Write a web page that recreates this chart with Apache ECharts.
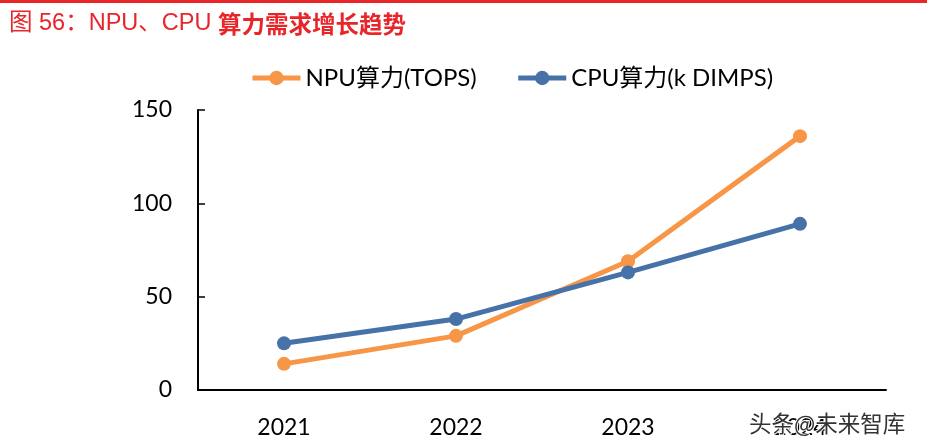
<!DOCTYPE html>
<html><head><meta charset="utf-8">
<script src="https://cdn.jsdelivr.net/npm/echarts@6/dist/echarts.min.js"></script>
<style>html,body{margin:0;padding:0;background:#fff}#c{width:927px;height:447px}</style>
</head><body><div id="c"></div>
<script>
var categories = ['2021', '2022', '2023', '2024'];
var npuValues = [14, 29, 69, 136];
var cpuValues = [25, 38, 63, 89];
var yTicks = [0, 50, 100, 150];
var seriesNames = ['NPU算力(TOPS)', 'CPU算力(k DIMPS)'];

var FONT = 'Lato, "Noto Sans CJK SC", sans-serif';
var NPU_COLOR = '#F79646', CPU_COLOR = '#4672A8';
var chart = echarts.init(document.getElementById('c'));
chart.setOption({
  animation: false,
  backgroundColor: '#fff',
  title: {
    left: 4, top: 7,
    text: '{a|图 56：NPU、CPU }{b|算力需求增长趋势}',
    textStyle: {
      fontWeight: 'normal',
      rich: {
        a: {color: '#E8262A', fontSize: 23.5, fontWeight: 'normal', fontFamily: '"Liberation Sans", "Noto Sans CJK SC", sans-serif'},
        b: {color: '#E8262A', fontSize: 23.5, fontWeight: 'bold', fontFamily: '"Noto Sans CJK SC", sans-serif'}
      }
    }
  },
  graphic: [
    {type: 'rect', shape: {x: 0, y: 0, width: 927, height: 3}, style: {fill: '#E8262A'}, z: 10},
    {type: 'text', left: 748, top: 411, z: 100,
     style: {text: '头条@未来智库', fill: '#333', font: '22.5px "Noto Sans CJK SC", sans-serif',
             stroke: '#fff', lineWidth: 2}}
  ],
  legend: {
    top: 61, left: 245,
    itemWidth: 48, itemHeight: 18, itemGap: 39,
    textStyle: {fontSize: 24, color: '#000', fontFamily: FONT},
    data: [
      {name: seriesNames[0], lineStyle: {width: 5, color: NPU_COLOR}},
      {name: seriesNames[1], lineStyle: {width: 5, color: CPU_COLOR}}
    ]
  },
  grid: {left: 198, right: 41, top: 110, bottom: 57},
  xAxis: {
    type: 'category', data: categories, boundaryGap: true,
    axisLine: {lineStyle: {color: '#000', width: 2}},
    axisTick: {inside: true, length: 7, lineStyle: {color: '#000', width: 1.5}},
    axisLabel: {fontSize: 23, color: '#000', margin: 26, fontFamily: FONT},
    splitLine: {show: false}
  },
  yAxis: {
    type: 'value', min: 0, max: 150, interval: 50,
    axisLine: {show: true, lineStyle: {color: '#000', width: 2}},
    axisTick: {show: true, inside: true, length: 7, lineStyle: {color: '#000', width: 1.5}},
    axisLabel: {fontSize: 23, color: '#000', margin: 26, fontFamily: FONT,
      formatter: function (v) { return yTicks.indexOf(v) >= 0 ? String(v) : ''; }},
    splitLine: {show: false}
  },
  series: [
    {name: seriesNames[0], type: 'line', data: npuValues, symbol: 'circle', symbolSize: 14,
     lineStyle: {color: NPU_COLOR, width: 5}, itemStyle: {color: NPU_COLOR}, z: 3},
    {name: seriesNames[1], type: 'line', data: cpuValues, symbol: 'circle', symbolSize: 14,
     lineStyle: {color: CPU_COLOR, width: 5}, itemStyle: {color: CPU_COLOR}, z: 4}
  ]
});
</script></body></html>
